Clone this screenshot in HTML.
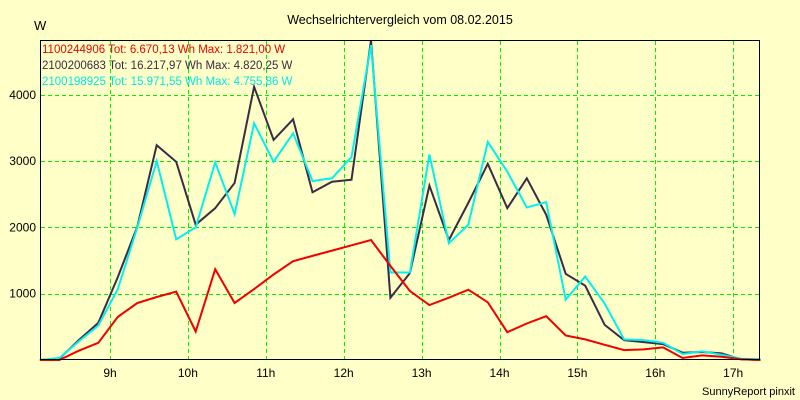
<!DOCTYPE html>
<html><head><meta charset="utf-8"><style>
body{margin:0;background:#ffffc8;}
svg{display:block;font-family:"Liberation Sans",sans-serif;}
</style></head><body>
<svg id="c" width="800" height="400">
<rect x="0" y="0" width="800" height="400" fill="#ffffc8"/>
<text x="400" y="24" font-size="12.5" text-anchor="middle" fill="#000">Wechselrichtervergleich vom 08.02.2015</text>
<text x="34" y="30" font-size="13" fill="#000">W</text>
<text x="795" y="395" font-size="11" text-anchor="end" fill="#000">SunnyReport pinxit</text>
<g id="grid"></g><g id="series"></g>
<rect x="40.5" y="40.5" width="719" height="319" fill="none" stroke="#000" stroke-width="1"/>
<g id="legend"></g>
</svg>
<script>
const times=["8:06","8:21","8:36","8:51","9:06","9:21","9:36","9:51","10:06","10:21","10:36","10:51","11:06","11:21","11:36","11:51","12:06","12:21","12:36","12:51","13:06","13:21","13:36","13:51","14:06","14:21","14:36","14:51","15:06","15:21","15:36","15:51","16:06","16:21","16:36","16:51","17:06","17:21"];
const redVals=[0,0,140,260,650,860,950,1030,430,1370,860,1070,1290,1490,1570,1650,1730,1810,1420,1040,830,940,1060,870,420,550,660,370,310,230,150,160,190,30,70,50,10,0];
const darkVals=[0,20,300,560,1250,2010,3240,2990,2040,2290,2670,4120,3320,3630,2530,2690,2720,4820,940,1310,2630,1810,2370,2960,2290,2740,2190,1300,1120,530,300,270,240,110,120,100,10,0];
const cyanVals=[0,30,280,520,1070,2000,3000,1820,2000,2980,2200,3570,2990,3420,2700,2740,3060,4750,1320,1320,3100,1760,2040,3290,2840,2300,2380,910,1260,850,310,300,260,90,130,80,20,10];
const hourTicks=[9,10,11,12,13,14,15,16,17];
const yTicks=[1000,2000,3000,4000];
const legendTexts=["1100244906 Tot: 6.670,13 Wh Max: 1.821,00 W","2100200683 Tot: 16.217,97 Wh Max: 4.820,25 W","2100198925 Tot: 15.971,55 Wh Max: 4.755,86 W"];
const NS="http://www.w3.org/2000/svg";
function tHours(s){const p=s.split(":");return +p[0]+(+p[1])/60;}
function X(h){return 110+(h-9)*77.9;}
function Y(v){return 360-v*0.0663;}
const grid=document.getElementById('grid');
hourTicks.forEach(h=>{
 const l=document.createElementNS(NS,'line');
 l.setAttribute('x1',Math.round(X(h))+0.5);l.setAttribute('x2',Math.round(X(h))+0.5);l.setAttribute('y1',41);l.setAttribute('y2',359);
 l.setAttribute('stroke','#00f000');l.setAttribute('stroke-dasharray','4,3');
 
 
 grid.appendChild(l);
 const t=document.createElementNS(NS,'text');
 t.setAttribute('x',X(h));t.setAttribute('y',377);t.setAttribute('font-size','12');t.setAttribute('text-anchor','middle');
 t.textContent=h+'h';
 
 
 grid.appendChild(t);
});
yTicks.forEach(v=>{
 const l=document.createElementNS(NS,'line');
 l.setAttribute('x1',41);l.setAttribute('x2',759);l.setAttribute('y1',Math.round(Y(v))+0.5);l.setAttribute('y2',Math.round(Y(v))+0.5);
 l.setAttribute('stroke','#00f000');l.setAttribute('stroke-dasharray','4,3');
 
 
 grid.appendChild(l);
 const t=document.createElementNS(NS,'text');
 t.setAttribute('x',36);t.setAttribute('y',Y(v)+4);t.setAttribute('font-size','12');t.setAttribute('text-anchor','end');
 t.textContent=v;
 
 
 grid.appendChild(t);
});
const ser=document.getElementById('series');
[[darkVals,'#3c2a46','series-2100200683'],[cyanVals,'#00f0f0','series-2100198925'],[redVals,'#f00000','series-1100244906']].forEach(s=>{
 const p=document.createElementNS(NS,'polyline');
 p.setAttribute('points',s[0].map((v,i)=>X(tHours(times[i])).toFixed(1)+','+Y(v).toFixed(1)).join(' '));
 p.setAttribute('fill','none');p.setAttribute('stroke',s[1]);p.setAttribute('stroke-width','2');
 
 
 ser.appendChild(p);
});
const leg=document.getElementById('legend');
const legColors=['#f00000','#3c2a46','#00e8e8'];
legendTexts.forEach((s,i)=>{
 const t=document.createElementNS(NS,'text');
 t.setAttribute('x',42);t.setAttribute('y',53+i*16);t.setAttribute('font-size','11.5');t.setAttribute('fill',legColors[i]);
 t.textContent=s;
 
 
 leg.appendChild(t);
});
</script>
</body></html>
